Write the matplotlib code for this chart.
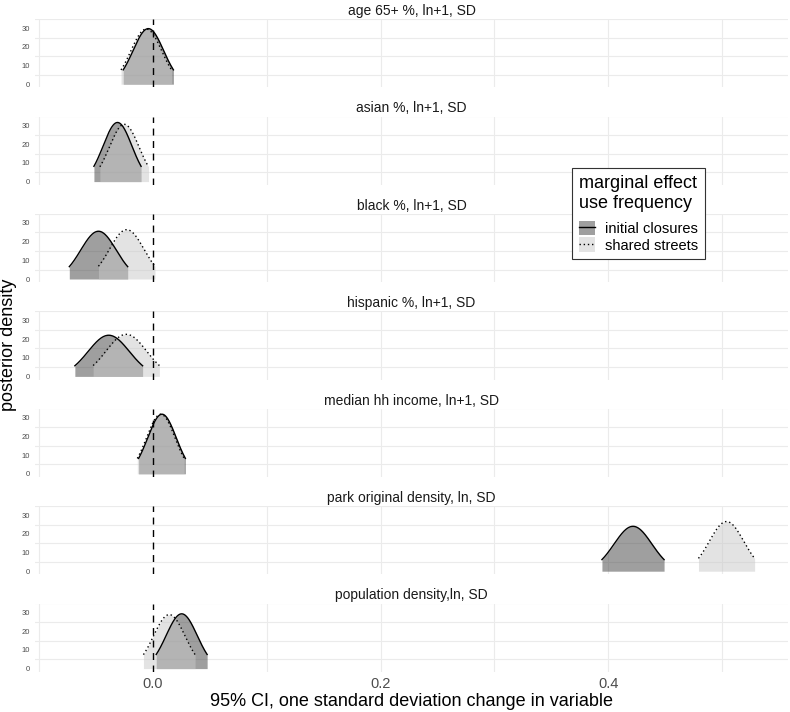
import matplotlib
matplotlib.use("Agg")
import matplotlib.pyplot as plt
import numpy as np
from matplotlib.patches import Patch
from matplotlib.lines import Line2D

plt.rcParams.update({"font.family": ["Liberation Sans", "DejaVu Sans"]})

# --- data: posterior mean / sd of each marginal effect ---
variables = [
    "age 65+ %, ln+1, SD",
    "asian %, ln+1, SD",
    "black %, ln+1, SD",
    "hispanic %, ln+1, SD",
    "median hh income, ln+1, SD",
    "park original density, ln, SD",
    "population density,ln, SD",
]
initial_mean = [-0.0041, -0.0312, -0.0479, -0.0389, 0.0079, 0.4218, 0.0252]
initial_sd = [0.0134, 0.0126, 0.0156, 0.0181, 0.0125, 0.0166, 0.0136]
shared_mean = [-0.0059, -0.0253, -0.0231, -0.0235, 0.0068, 0.5040, 0.0143]
shared_sd = [0.0135, 0.0130, 0.0151, 0.0177, 0.0125, 0.0150, 0.0138]
groups = ["initial closures", "shared streets"]
x_ticks = [0.0, 0.2, 0.4]
y_ticks = [0, 10, 20, 30]

DARK, LIGHT = "#414141", "#c9c9c9"
GRID = "#ebebeb"
TXT = "#4d4d4d"
Z = 1.645  # shaded interval half-width in sd

W, H = 790, 712
fig = plt.figure(figsize=(W / 100, H / 100), dpi=100)

left_px, right_px = 35, 788
xlim = (-0.1037, 0.558)
ylim = (-1.66, 34.86)
px_per_unit = 68.2 / (ylim[1] - ylim[0])


def density(mu, sd):
    x = np.linspace(mu - Z * sd, mu + Z * sd, 200)
    y = np.exp(-0.5 * ((x - mu) / sd) ** 2) / (sd * np.sqrt(2 * np.pi))
    return x, y


for k, name in enumerate(variables):
    base = 84.2 + 97.4 * k
    top = base - ylim[1] * px_per_unit
    bot = base - ylim[0] * px_per_unit
    ax = fig.add_axes([left_px / W, 1 - bot / H, (right_px - left_px) / W, (bot - top) / H])
    ax.set_xlim(*xlim); ax.set_ylim(*ylim)
    for s in ax.spines.values():
        s.set_visible(False)
    for gy in [5, 15, 25, 35]:
        ax.axhline(gy, color=GRID, lw=0.8, zorder=0)
    for gx in [-0.1, 0.1, 0.2, 0.3, 0.4, 0.5]:
        ax.axvline(gx, color=GRID, lw=0.8, zorder=0)

    xi, yi = density(initial_mean[k], initial_sd[k])
    xs, ys = density(shared_mean[k], shared_sd[k])
    ax.fill_between(xi, 0, yi, color=DARK, alpha=0.5, lw=0, zorder=1)
    ax.fill_between(xs, 0, ys, color=LIGHT, alpha=0.5, lw=0, zorder=2)
    ax.plot(xi, yi, color="black", lw=1.0, zorder=3)
    ax.plot(xs, ys, color="black", lw=1.0, ls=(0, (1, 2)), zorder=3)
    ax.axvline(0, color="black", lw=1.0, ls=(0, (5, 4)), zorder=4)

    ax.set_yticks(y_ticks)
    ax.tick_params(axis="y", length=0, labelsize=5.5, labelcolor=TXT, pad=3.5)
    ax.set_xticks(x_ticks)
    if k == len(variables) - 1:
        ax.set_xticklabels([f"{t:.1f}" for t in x_ticks])
        ax.tick_params(axis="x", length=0, labelsize=10.5, labelcolor=TXT, pad=4)
    else:
        ax.tick_params(axis="x", length=0, labelbottom=False)
    ax.set_title(name, fontsize=10, color="#1a1a1a", pad=3)

fig.text((left_px + right_px) / 2 / W, 1 - 701 / H,
         "95% CI, one standard deviation change in variable",
         ha="center", va="center", fontsize=13, color="black")
fig.text(9 / W, 1 - 345 / H, "posterior density", rotation=90,
         ha="center", va="center", fontsize=13, color="black")

handles = [
    (Patch(facecolor=DARK, alpha=0.5, lw=0), Line2D([], [], color="black", lw=1.0)),
    (Patch(facecolor=LIGHT, alpha=0.5, lw=0), Line2D([], [], color="black", lw=1.0, ls=(0, (1, 2)))),
]
leg = fig.legend(handles, groups, title="marginal effect\nuse frequency",
                 loc="upper left", bbox_to_anchor=(572 / W, 1 - 168 / H),
                 fontsize=10.5, title_fontsize=13, frameon=True, fancybox=False,
                 framealpha=1, edgecolor="#333333", handlelength=1.1,
                 handleheight=1.15, handletextpad=0.7, labelspacing=0.1,
                 borderpad=0.45, borderaxespad=0, alignment="left")
leg.get_frame().set_linewidth(0.8)
leg.get_title().set_linespacing(1.3)
leg._legend_box.sep = 6  # extra gap between title and keys

fig.savefig("out.png", dpi=100)
